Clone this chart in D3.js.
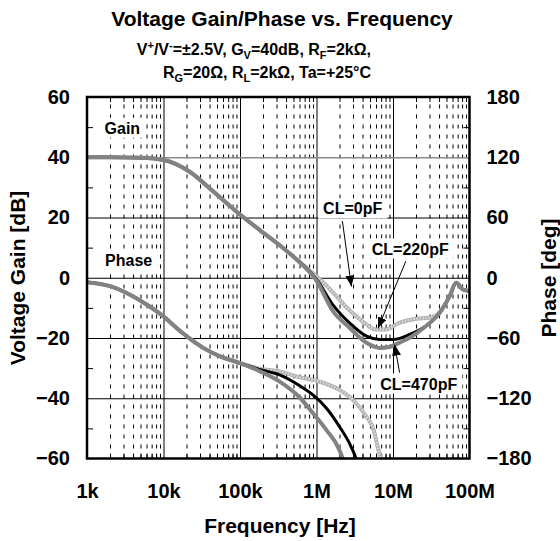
<!DOCTYPE html>
<html>
<head>
<meta charset="utf-8">
<script src="https://cdn.jsdelivr.net/npm/d3@7"></script>
<style>
  body { margin: 0; background: #fff; }
  svg { font-family: "Liberation Sans", Arial, sans-serif; font-weight: bold; }
</style>
</head>
<body>
<svg id="chart" width="560" height="541"></svg>
<script>
// ---- données ----
var freqTicks = [1e3, 1e4, 1e5, 1e6, 1e7, 1e8];
var freqLabels = ['1k', '10k', '100k', '1M', '10M', '100M'];
var gainTicks = [-60, -40, -20, 0, 20, 40, 60];
var phaseTicks = [-180, -120, -60, 0, 60, 120, 180];

// gain [dB]
var gainF0   = [1e3, 2e3, 5e3, 1e4, 2.2e4, 4.4e4, 1e5, 2e5, 3.3e5, 5e5, 7.5e5, 1e6, 1.4e6, 1.82e6, 2.4e6, 3.3e6, 4.5e6, 6e6, 8.1e6, 1.2e7, 2e7, 3e7, 4.1e7, 5.5e7, 6.7e7, 8.2e7, 1e8];
var gain0    = [40, 40, 39.8, 39.1, 35.2, 28.8, 21, 15, 10.8, 7, 3.2, 0.5, -3, -6.1, -9.5, -12.8, -15.5, -17.2, -17.2, -15, -13.6, -13.3, -11.3, -6.1, -1.7, -3.9, -4.4];
var gainF220 = [1e3, 2e3, 5e3, 1e4, 2.2e4, 4.4e4, 1e5, 2e5, 3.3e5, 5e5, 7.5e5, 1e6, 1.64e6, 2.7e6, 4.5e6, 6.7e6, 1e7, 1.65e7, 2.7e7, 4.1e7, 5.5e7, 6.7e7, 8.2e7, 1e8];
var gain220  = [40, 40, 39.8, 39.1, 35.2, 28.8, 21, 15, 10.8, 7, 3, -0.5, -9, -15, -19.4, -20.5, -20.5, -18.8, -16, -11.6, -6.1, -1.7, -3.9, -4.4];
var gainF470 = [1e3, 2e3, 5e3, 1e4, 2.2e4, 4.4e4, 1e5, 2e5, 3.3e5, 5e5, 7.5e5, 1e6, 1.64e6, 2.7e6, 4.5e6, 6.7e6, 9.2e6, 1.2e7, 1.65e7, 2.7e7, 4.1e7, 5.5e7, 6.7e7, 8.2e7, 1e8];
var gain470  = [40, 40, 39.8, 39.1, 35.2, 28.8, 21, 15, 10.8, 7, 2.8, -1, -11.1, -16.6, -21.6, -23.3, -22.9, -21.6, -19.9, -16, -11.6, -6.1, -1.7, -3.9, -4.4];

// phase [deg]
var phaseF0   = [1e3, 2e3, 3.6e3, 6e3, 1e4, 1.47e4, 2e4, 3.3e4, 5.4e4, 1e5, 1.8e5, 3.3e5, 5.75e5, 1e6, 2e6, 3e6, 4.5e6, 5.6e6, 6.3e6, 6.9e6, 7.5e6];
var phase0    = [-4.4, -8.4, -16.7, -26.6, -38.5, -49.8, -58.2, -69.8, -78.1, -85, -90.5, -93.4, -98.7, -102.5, -111.7, -121.7, -138.4, -151.7, -168.4, -180, -195];
var phaseF220 = [1e3, 2e3, 3.6e3, 6e3, 1e4, 1.47e4, 2e4, 3.3e4, 5.4e4, 1e5, 1.8e5, 3.3e5, 5.75e5, 9e5, 1.35e6, 2e6, 2.7e6, 3.3e6, 4e6];
var phase220  = [-4.4, -8.4, -16.7, -26.6, -38.5, -49.8, -58.2, -69.8, -78.1, -85, -91.4, -96.7, -106.5, -116.7, -130, -148.4, -165, -180, -198];
var phaseF470 = [1e3, 2e3, 3.6e3, 6e3, 1e4, 1.47e4, 2e4, 3.3e4, 5.4e4, 1e5, 1.8e5, 3.3e5, 6e5, 9e5, 1.35e6, 2e6, 2.2e6, 2.5e6];
var phase470  = [-4.4, -8.4, -16.7, -26.6, -38.5, -49.8, -58.2, -69.8, -78.1, -85, -93, -103.4, -119, -135, -151.7, -171.7, -180, -195];

// ---- mise en page ----
var svg = d3.select('#chart');
var L = 87, R = 469.5, T = 97, B = 458.5;
var x = d3.scaleLog().domain([1e3, 1e8]).range([L, R]);
var yG = d3.scaleLinear().domain([-60, 60]).range([B, T]);
var yP = d3.scaleLinear().domain([-180, 180]).range([B, T]);

var font = '"Liberation Sans", Arial, sans-serif';

// graduations secondaires 2..9 de chaque décade
var minor = [];
for (var d = 3; d < 8; d++) for (var k = 2; k < 10; k++) minor.push(k * Math.pow(10, d));

function styleAxis(g, size) {
  g.attr('font-family', font).attr('font-size', size).attr('font-weight', 'bold');
  g.select('.domain').remove();
  g.selectAll('text').attr('fill', '#000');
}

// grille verticale pointillée
svg.append('g').attr('transform', 'translate(0,' + B + ')')
  .call(d3.axisBottom(x).tickValues(minor).tickSize(-(B - T)).tickFormat(''))
  .call(g => g.select('.domain').remove())
  .selectAll('line').attr('stroke', '#000').attr('stroke-width', 1).attr('stroke-dasharray', '4,6');

// grille verticale des décades
svg.append('g').attr('transform', 'translate(0,' + B + ')')
  .call(d3.axisBottom(x).tickValues(freqTicks.slice(1, -1)).tickSize(-(B - T)).tickFormat(''))
  .call(g => g.select('.domain').remove())
  .selectAll('line').attr('stroke', '#000').attr('stroke-width', 1);

// grille horizontale
svg.append('g').attr('transform', 'translate(' + L + ',0)')
  .call(d3.axisLeft(yG).tickValues(gainTicks.slice(1, -1)).tickSize(-(R - L)).tickFormat(''))
  .call(g => g.select('.domain').remove())
  .selectAll('line')
  .attr('stroke', d => d === 40 ? '#8a8a8a' : '#000')
  .attr('stroke-width', d => d === 40 ? 1.5 : 1);

// petites graduations
svg.append('g').attr('transform', 'translate(' + L + ',0)')
  .call(d3.axisLeft(yG).tickValues([-50, -30, -10, 10, 30, 50]).tickSize(-6).tickFormat(''))
  .call(g => g.select('.domain').remove());
svg.append('g').attr('transform', 'translate(' + R + ',0)')
  .call(d3.axisRight(yP).tickValues([-150, -90, -30, 30, 90, 150]).tickSize(-6).tickFormat(''))
  .call(g => g.select('.domain').remove());
svg.append('g').attr('transform', 'translate(0,' + B + ')')
  .call(d3.axisBottom(x).tickValues(minor).tickSize(-5).tickFormat(''))
  .call(g => g.select('.domain').remove());
svg.append('g').attr('transform', 'translate(0,' + T + ')')
  .call(d3.axisTop(x).tickValues(minor).tickSize(-5).tickFormat(''))
  .call(g => g.select('.domain').remove());

// étiquettes des axes
svg.append('g').attr('transform', 'translate(' + L + ',0)')
  .call(d3.axisLeft(yG).tickValues(gainTicks).tickSize(0).tickPadding(17))
  .call(g => styleAxis(g, 20));
svg.append('g').attr('transform', 'translate(' + R + ',0)')
  .call(d3.axisRight(yP).tickValues(phaseTicks).tickSize(0).tickPadding(17))
  .call(g => styleAxis(g, 20));
svg.append('g').attr('transform', 'translate(0,' + B + ')')
  .call(d3.axisBottom(x).tickValues(freqTicks).tickSize(0).tickPadding(25)
    .tickFormat((d, i) => freqLabels[i]))
  .call(g => styleAxis(g, 20));

// étiquettes sur fond blanc
function boxLabel(txt, f, dB, size) {
  var g = svg.append('g');
  var t = g.append('text').attr('x', x(f)).attr('y', yG(dB))
    .attr('text-anchor', 'middle').attr('font-size', size).text(txt);
  var bb = t.node().getBBox();
  g.insert('rect', 'text').attr('x', bb.x - 5).attr('y', bb.y - 2)
    .attr('width', bb.width + 10).attr('height', bb.height + 3).attr('fill', '#fff');
}
boxLabel('Gain', 2.9e3, 47.8, 16);
boxLabel('Phase', 3.5e3, 3.9, 16);
boxLabel('CL=0pF', 2.97e6, 21.0, 16);
boxLabel('CL=220pF', 1.68e7, 7.7, 16);
boxLabel('CL=470pF', 2.17e7, -37.1, 16);

// courbes
svg.append('clipPath').attr('id', 'plot').append('rect')
  .attr('x', L).attr('y', T).attr('width', R - L).attr('height', B - T);
var plot = svg.append('g').attr('clip-path', 'url(#plot)');

var lineG = d3.line().x(d => x(d[0])).y(d => yG(d[1])).curve(d3.curveMonotoneX);
var lineP = d3.line().x(d => x(d[0])).y(d => yP(d[1])).curve(d3.curveMonotoneX);

// CL=0pF : gris clair tramé (texture = trait clair pointillé par-dessus)
var series = [
  { f: gainF0, v: gain0, line: lineG, color: '#adadad', w: 4, over: '#dcdcdc' },
  { f: phaseF0, v: phase0, line: lineP, color: '#adadad', w: 4, over: '#dcdcdc' },
  { f: gainF220, v: gain220, line: lineG, color: '#000', w: 3 },
  { f: phaseF220, v: phase220, line: lineP, color: '#000', w: 3 },
  { f: gainF470, v: gain470, line: lineG, color: '#828282', w: 4 },
  { f: phaseF470, v: phase470, line: lineP, color: '#828282', w: 4 }
];
series.forEach(function(s) {
  var pts = s.f.map((f, i) => [f, s.v[i]]);
  plot.append('path')
    .datum(pts)
    .attr('fill', 'none').attr('stroke', s.color).attr('stroke-width', s.w)
    .attr('stroke-linejoin', 'round')
    .attr('d', s.line);
  if (s.over) {
    plot.append('path')
      .datum(pts)
      .attr('fill', 'none').attr('stroke', s.over).attr('stroke-width', s.w - 1.5)
      .attr('stroke-dasharray', '1.5,1.5')
      .attr('d', s.line);
  }
});

// flèches
svg.append('defs').append('marker').attr('id', 'arrow')
  .attr('markerUnits', 'userSpaceOnUse').attr('markerWidth', 11).attr('markerHeight', 9)
  .attr('refX', 11).attr('refY', 4.5).attr('orient', 'auto')
  .append('path').attr('d', 'M0,0 L11,4.5 L0,9 Z').attr('fill', '#000');
var arrows = [
  [2.18e6, 18.8, 2.86e6, -2.9],
  [1.47e7, 5.5, 6.37e6, -16.8],
  [1.22e7, -31.5, 1.05e7, -22.2]
];
arrows.forEach(function(a) {
  svg.append('line')
    .attr('x1', x(a[0])).attr('y1', yG(a[1])).attr('x2', x(a[2])).attr('y2', yG(a[3]))
    .attr('stroke', '#000').attr('stroke-width', 1).attr('marker-end', 'url(#arrow)');
});

// cadre
svg.append('rect').attr('x', L).attr('y', T).attr('width', R - L).attr('height', B - T)
  .attr('fill', 'none').attr('stroke', '#000').attr('stroke-width', 2.5);

// titres
svg.append('text').attr('x', 282).attr('y', 26).attr('text-anchor', 'middle')
  .attr('font-size', 21).text('Voltage Gain/Phase vs. Frequency');

function richLine(parts, xEnd, yBase) {
  var t = svg.append('text').attr('x', xEnd).attr('y', yBase)
    .attr('text-anchor', 'end').attr('font-size', 16);
  var shift = 0;
  parts.forEach(function(p) {
    var target = p[1] === 1 ? -6 : (p[1] === -1 ? 4 : 0);
    t.append('tspan').attr('dy', target - shift)
      .attr('font-size', p[1] === 0 ? 16 : 11).text(p[0]);
    shift = target;
  });
}
richLine([['V', 0], ['+', 1], ['/V', 0], ['-', 1], ['=±2.5V, G', 0], ['V', -1], ['=40dB, R', 0], ['F', -1], ['=2kΩ,', 0]], 371, 55);
richLine([['R', 0], ['G', -1], ['=20Ω, R', 0], ['L', -1], ['=2kΩ, Ta=+25°C', 0]], 371, 78);

svg.append('text').attr('x', 280).attr('y', 533).attr('text-anchor', 'middle')
  .attr('font-size', 21).text('Frequency [Hz]');
svg.append('text').attr('transform', 'translate(25,278) rotate(-90)')
  .attr('text-anchor', 'middle').attr('font-size', 21).text('Voltage Gain [dB]');
svg.append('text').attr('transform', 'translate(556,278) rotate(-90)')
  .attr('text-anchor', 'middle').attr('font-size', 21).text('Phase [deg]');
</script>
</body>
</html>
